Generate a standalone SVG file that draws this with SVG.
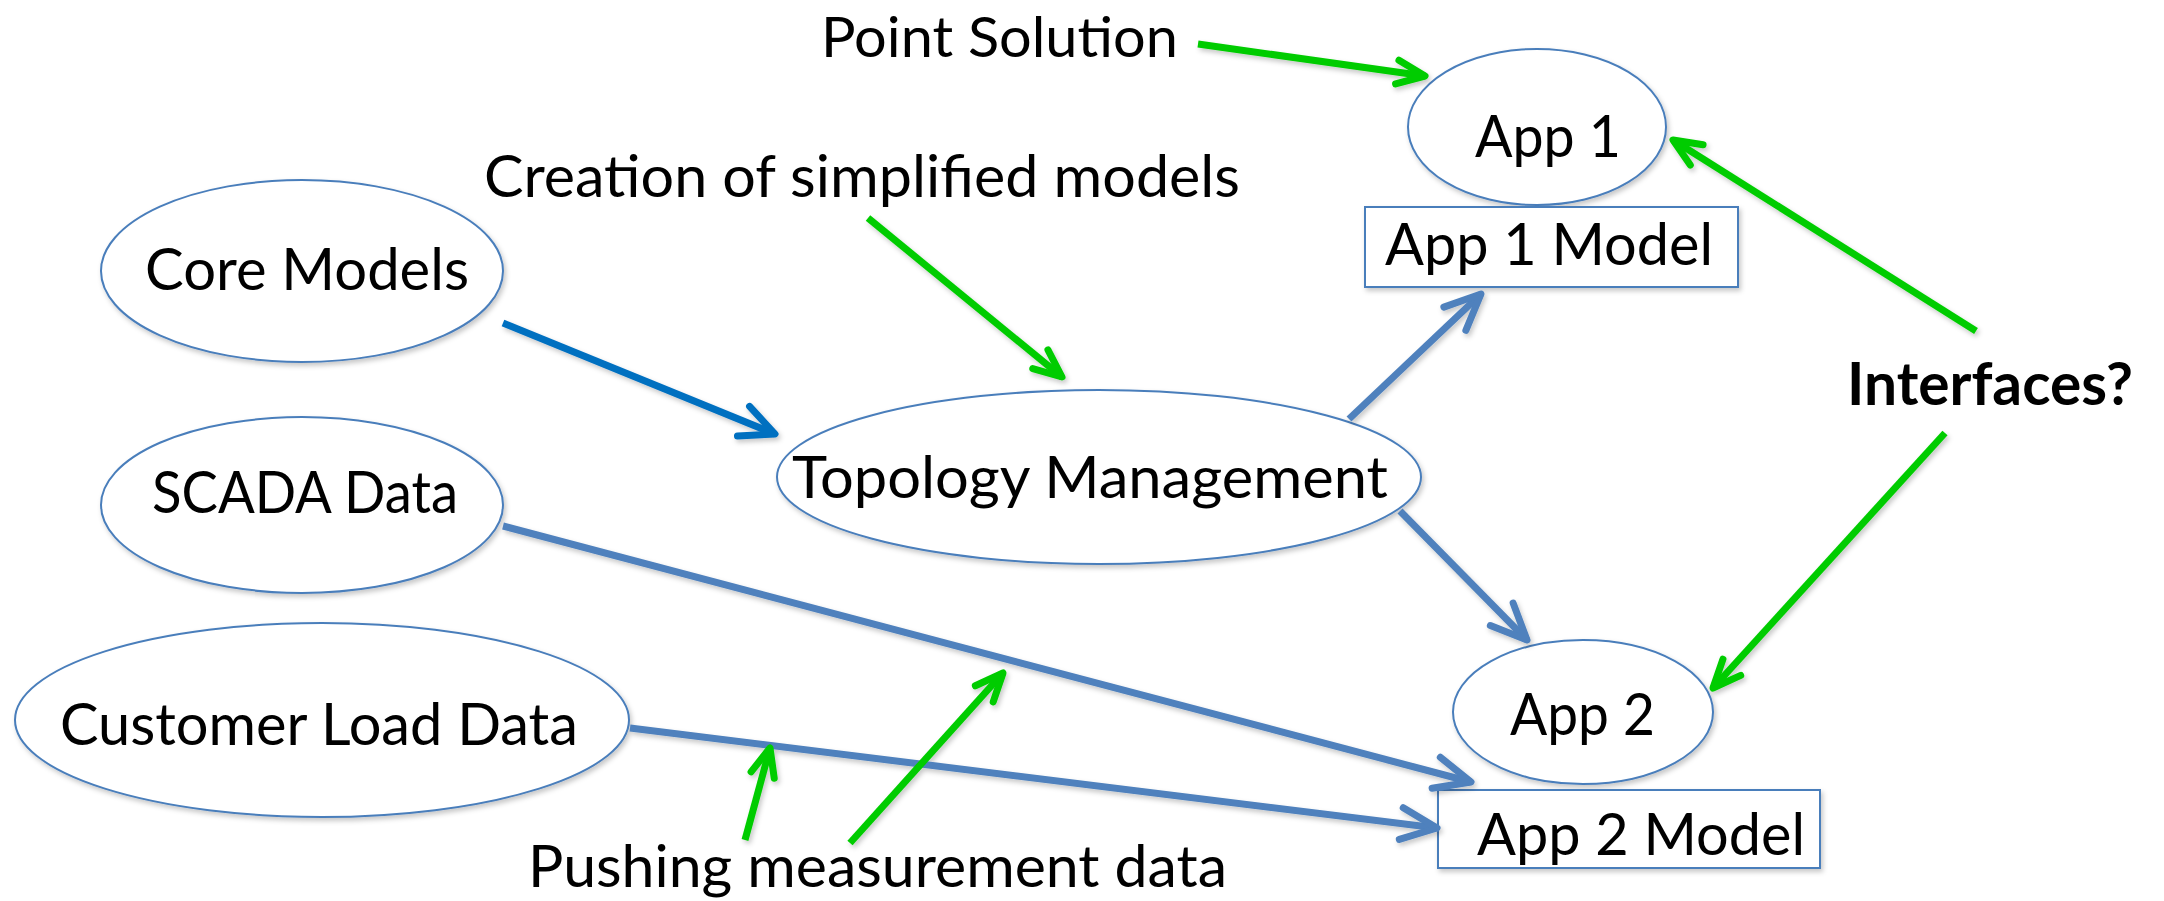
<svg xmlns="http://www.w3.org/2000/svg" width="2164" height="901" viewBox="0 0 2164 901">
  <defs>
    <style>
      .shape { fill: #ffffff; stroke: #4A7EBB; stroke-width: 2; filter: url(#shadow); }
      .label { font-family: Lato, "Liberation Sans", sans-serif; font-size: 59px; fill: #000000; }
      .top { font-size: 57px; }
      .bold { font-weight: bold; }
      .green { fill: none; stroke: #00CC00; stroke-width: 7; marker-end: url(#head-green); }
      .blue { fill: none; stroke: #4F81BD; stroke-width: 7; marker-end: url(#head-blue); }
      .dark { fill: none; stroke: #0070C0; stroke-width: 7; marker-end: url(#head-dark); }
      .conn { filter: url(#shadow); }
    </style>
    <filter id="shadow" x="-10%" y="-10%" width="130%" height="140%">
      <feDropShadow dx="2" dy="3" stdDeviation="2.5" flood-color="#000000" flood-opacity="0.22"/>
    </filter>
    <marker id="head-green" markerUnits="userSpaceOnUse" viewBox="-40 -20 50 40" markerWidth="50" markerHeight="40" refX="0" refY="0" orient="auto" overflow="visible">
      <path d="M-28,-12 L0,0 L-28,12" fill="none" stroke="#00CC00" stroke-width="7" stroke-linecap="round" stroke-linejoin="round"/>
    </marker>
    <marker id="head-blue" markerUnits="userSpaceOnUse" viewBox="-50 -25 60 50" markerWidth="60" markerHeight="50" refX="0" refY="0" orient="auto" overflow="visible">
      <path d="M-36,-16 L0,0 L-36,16" fill="none" stroke="#4F81BD" stroke-width="7" stroke-linecap="round" stroke-linejoin="round"/>
    </marker>
    <marker id="head-dark" markerUnits="userSpaceOnUse" viewBox="-50 -25 60 50" markerWidth="60" markerHeight="50" refX="0" refY="0" orient="auto" overflow="visible">
      <path d="M-34,-16 L0,0 L-34,16" fill="none" stroke="#0070C0" stroke-width="7" stroke-linecap="round" stroke-linejoin="round"/>
    </marker>
  </defs>

  <rect width="2164" height="901" fill="#ffffff"/>

  <!-- nodes -->
  <g id="core-models">
    <ellipse class="shape" cx="302" cy="271" rx="201" ry="91"/>
    <text class="label" x="145" y="290" textLength="324" lengthAdjust="spacingAndGlyphs">Core Models</text>
  </g>
  <g id="scada-data">
    <ellipse class="shape" cx="302" cy="505" rx="201" ry="88"/>
    <text class="label" x="152" y="513" textLength="306" lengthAdjust="spacingAndGlyphs">SCADA Data</text>
  </g>
  <g id="customer-load-data">
    <ellipse class="shape" cx="322" cy="720" rx="307" ry="97"/>
    <text class="label" x="60" y="745" textLength="518" lengthAdjust="spacingAndGlyphs">Customer Load Data</text>
  </g>
  <g id="topology-management">
    <ellipse class="shape" cx="1099" cy="477" rx="322" ry="87"/>
    <text class="label" x="792" y="498" textLength="596" lengthAdjust="spacingAndGlyphs">Topology Management</text>
  </g>
  <g id="app1">
    <ellipse class="shape" cx="1537" cy="127" rx="129" ry="78"/>
    <text class="label" x="1475" y="157" textLength="146" lengthAdjust="spacingAndGlyphs">App 1</text>
  </g>
  <g id="app1-model">
    <rect class="shape" x="1365" y="207" width="373" height="80"/>
    <text class="label" x="1385" y="265" textLength="328" lengthAdjust="spacingAndGlyphs">App 1 Model</text>
  </g>
  <g id="app2">
    <ellipse class="shape" cx="1583" cy="712" rx="130" ry="72"/>
    <text class="label" x="1510" y="735" textLength="145" lengthAdjust="spacingAndGlyphs">App 2</text>
  </g>
  <g id="app2-model">
    <rect class="shape" x="1438" y="790" width="382" height="78"/>
    <text class="label" x="1477" y="855" textLength="328" lengthAdjust="spacingAndGlyphs">App 2 Model</text>
  </g>

  <!-- annotations -->
  <g id="annotations">
    <text class="label top" x="821" y="57" textLength="357" lengthAdjust="spacingAndGlyphs">Point Solution</text>
    <text class="label" x="484" y="197" textLength="756" lengthAdjust="spacingAndGlyphs">Creation of simplified models</text>
    <text class="label bold" x="1847" y="405" textLength="286" lengthAdjust="spacingAndGlyphs">Interfaces?</text>
    <text class="label" x="528" y="887" textLength="699" lengthAdjust="spacingAndGlyphs">Pushing measurement data</text>
  </g>

  <!-- connectors -->
  <g id="connectors" class="conn">
    <line class="dark" x1="503" y1="323" x2="775" y2="434"/>
    <line class="blue" x1="1349" y1="419" x2="1481" y2="294"/>
    <line class="blue" x1="1400" y1="511" x2="1527" y2="640"/>
    <line class="blue" x1="503" y1="526" x2="1471" y2="782"/>
    <line class="blue" x1="630" y1="728" x2="1437" y2="828"/>
    <line class="green" x1="1198" y1="44" x2="1425" y2="76"/>
    <line class="green" x1="868" y1="218" x2="1062" y2="377"/>
    <line class="green" x1="1976" y1="331" x2="1673" y2="140"/>
    <line class="green" x1="1945" y1="433" x2="1713" y2="688"/>
    <line class="green" x1="745" y1="840" x2="770" y2="748"/>
    <line class="green" x1="850" y1="843" x2="1003" y2="673"/>
  </g>
</svg>
